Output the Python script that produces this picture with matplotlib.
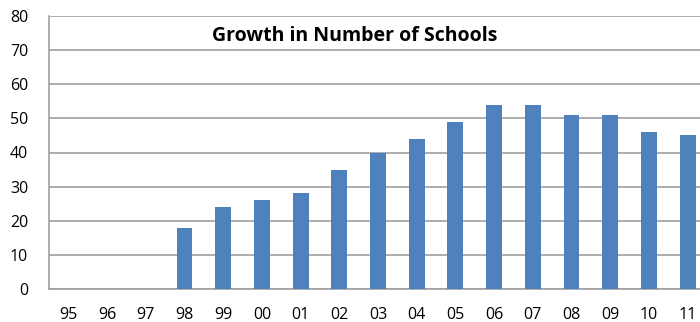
import matplotlib
matplotlib.use("Agg")
import matplotlib.pyplot as plt

years = ["95", "96", "97", "98", "99", "00", "01", "02", "03", "04",
         "05", "06", "07", "08", "09", "10", "11"]
schools = [0, 0, 0, 18, 24, 26, 28, 35, 40, 44, 49, 54, 54, 51, 51, 46, 45]

plt.rcParams['font.family'] = ['Open Sans', 'DejaVu Sans']

fig = plt.figure(figsize=(7, 3.22), dpi=100)
ax = fig.add_axes([49 / 700, 33 / 322, 658 / 700, 273 / 322])

x = range(len(years))
ax.bar(x, schools, width=0.41, color="#4F81BD", zorder=3)

ax.set_ylim(0, 80)
ax.set_yticks(range(0, 81, 10))
ax.set_xlim(-0.5, len(years) - 0.5)
ax.set_xticks(list(x))
ax.set_xticklabels(years)
ax.tick_params(length=0, labelsize=11.5, colors="#000000")
ax.tick_params(axis="x", pad=13)
ax.tick_params(axis="y", pad=15)

ax.grid(axis="y", color="#A0A0A0", linewidth=1.2, zorder=0)
for side in ["top", "right"]:
    ax.spines[side].set_visible(False)
for side in ["left", "bottom"]:
    ax.spines[side].set_color("#A0A0A0")
    ax.spines[side].set_linewidth(1.2)

ax.text(0.465, 0.927, "Growth in Number of Schools", transform=ax.transAxes,
        ha="center", va="center", fontsize=14, fontweight="bold")

fig.savefig("out.png", dpi=100)
